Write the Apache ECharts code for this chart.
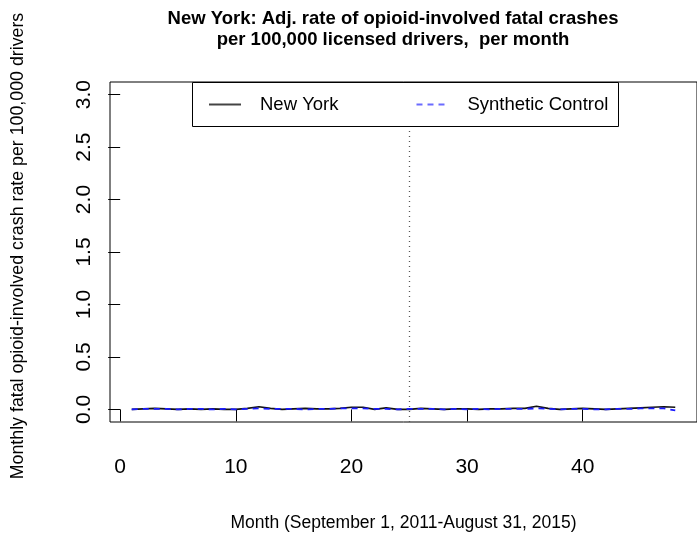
<!DOCTYPE html>
<html>
<head>
<meta charset="utf-8">
<script src="https://cdn.jsdelivr.net/npm/echarts@6/dist/echarts.min.js"></script>
<style>
  html, body { margin: 0; padding: 0; background: #fff; }
  #chart { width: 697px; height: 540px; }
</style>
</head>
<body>
<div id="chart"></div>
<script>
// Month index 1..48 (September 2011 - August 2015)
const months = Array.from({ length: 48 }, (_, i) => i + 1);

// Adjusted monthly rate per 100,000 licensed drivers
const newYork = [
  0.000, 0.005, 0.010, 0.005, 0.000, 0.005, 0.000, 0.005, 0.000, 0.000,
  0.010, 0.025, 0.010, 0.000, 0.005, 0.010, 0.005, 0.005, 0.010, 0.020,
  0.020, 0.000, 0.015, 0.000, 0.000, 0.010, 0.005, 0.000, 0.005, 0.005,
  0.000, 0.005, 0.005, 0.010, 0.010, 0.030, 0.010, 0.000, 0.005, 0.010,
  0.005, 0.000, 0.005, 0.010, 0.015, 0.020, 0.025, 0.020
];
const syntheticControl = [
  0.000, 0.005, 0.005, 0.005, 0.000, 0.005, 0.005, 0.000, 0.005, 0.000,
  0.005, 0.010, 0.005, 0.005, 0.005, 0.000, 0.005, 0.005, 0.010, 0.010,
  0.010, 0.005, 0.005, 0.000, 0.005, 0.005, 0.005, 0.000, 0.005, 0.000,
  0.005, 0.000, 0.005, 0.005, 0.005, 0.010, 0.005, 0.000, 0.005, 0.005,
  0.000, 0.000, 0.005, 0.005, 0.010, 0.010, 0.010, -0.010
];

const xTicks = [0, 10, 20, 30, 40];
const yTicks = [0, 0.5, 1.0, 1.5, 2.0, 2.5, 3.0];
const treatmentMonth = 25;

const chart = echarts.init(document.getElementById('chart'), null, { renderer: 'canvas' });
const font = 'Liberation Sans, Arial, Helvetica, sans-serif';

chart.setOption({
  animation: false,
  backgroundColor: '#fff',
  title: {
    text: 'New York: Adj. rate of opioid-involved fatal crashes\nper 100,000 licensed drivers,  per month',
    left: 388, top: 3, textAlign: 'center',
    textStyle: { fontFamily: font, fontWeight: 'bold', fontSize: 18.5, lineHeight: 21, color: '#000' }
  },
  grid: {
    left: 110, right: 0, top: 82, bottom: 118,
    outerBoundsMode: 'none',
    show: true, borderColor: '#000', borderWidth: 1, backgroundColor: 'transparent'
  },
  xAxis: {
    type: 'value', min: -0.88, max: 49.88,
    name: 'Month (September 1, 2011-August 31, 2015)',
    nameLocation: 'middle', nameGap: 92,
    nameTextStyle: { fontFamily: font, fontSize: 17.5, color: '#000' },
    axisLine: { show: false },
    splitLine: { show: false },
    axisTick: { show: true, inside: false, length: 12, customValues: xTicks, lineStyle: { color: '#000', width: 1 } },
    axisLabel: { customValues: xTicks, margin: 35, fontFamily: font, fontSize: 21, color: '#000' }
  },
  yAxis: {
    type: 'value', min: -0.12, max: 3.12,
    name: 'Monthly fatal opioid-involved crash rate per 100,000 drivers',
    nameLocation: 'middle', nameGap: 83, nameRotate: 90,
    nameTextStyle: { fontFamily: font, fontSize: 17.8, color: '#000', padding: [0, 0, 0, 12] },
    axisLine: { show: false },
    splitLine: { show: false },
    axisTick: { show: true, inside: false, length: 12, customValues: yTicks, lineStyle: { color: '#000', width: 1 } },
    axisLabel: {
      customValues: yTicks, rotate: 90, margin: 15, fontFamily: font, fontSize: 21, color: '#000',
      formatter: v => v.toFixed(1)
    }
  },
  legend: {
    left: 203, top: 90, itemWidth: 32, itemHeight: 14, itemGap: 77, z: 20,
    itemStyle: { opacity: 0 },
    textStyle: { fontFamily: font, fontSize: 18.5, color: '#000', padding: [0, 0, 0, 14] },
    data: [
      { name: 'New York', lineStyle: { color: '#444', width: 2 } },
      { name: 'Synthetic Control', lineStyle: { color: '#6b6bff', width: 2, type: [6, 5] } }
    ]
  },
  graphic: [{
    type: 'rect', z: 15,
    shape: { x: 192.5, y: 82.5, width: 426, height: 44 },
    style: { fill: '#fff', stroke: '#000', lineWidth: 1 }
  }],
  series: [
    {
      name: 'New York', type: 'line', symbol: 'none', smooth: false,
      data: months.map((m, i) => [m, newYork[i]]),
      lineStyle: { color: '#111', width: 1.6 },
      itemStyle: { color: '#111' },
      z: 3,
      markLine: {
        silent: true, symbol: 'none', label: { show: false },
        lineStyle: { color: '#555', type: [1, 4], width: 1.3 },
        data: [{ xAxis: treatmentMonth }]
      }
    },
    {
      name: 'Synthetic Control', type: 'line', symbol: 'none', smooth: false,
      data: months.map((m, i) => [m, syntheticControl[i]]),
      lineStyle: { color: '#1a1aff', width: 1.8, type: [6, 5] },
      itemStyle: { color: '#5a5aff' },
      z: 4
    }
  ]
});
</script>
</body>
</html>
